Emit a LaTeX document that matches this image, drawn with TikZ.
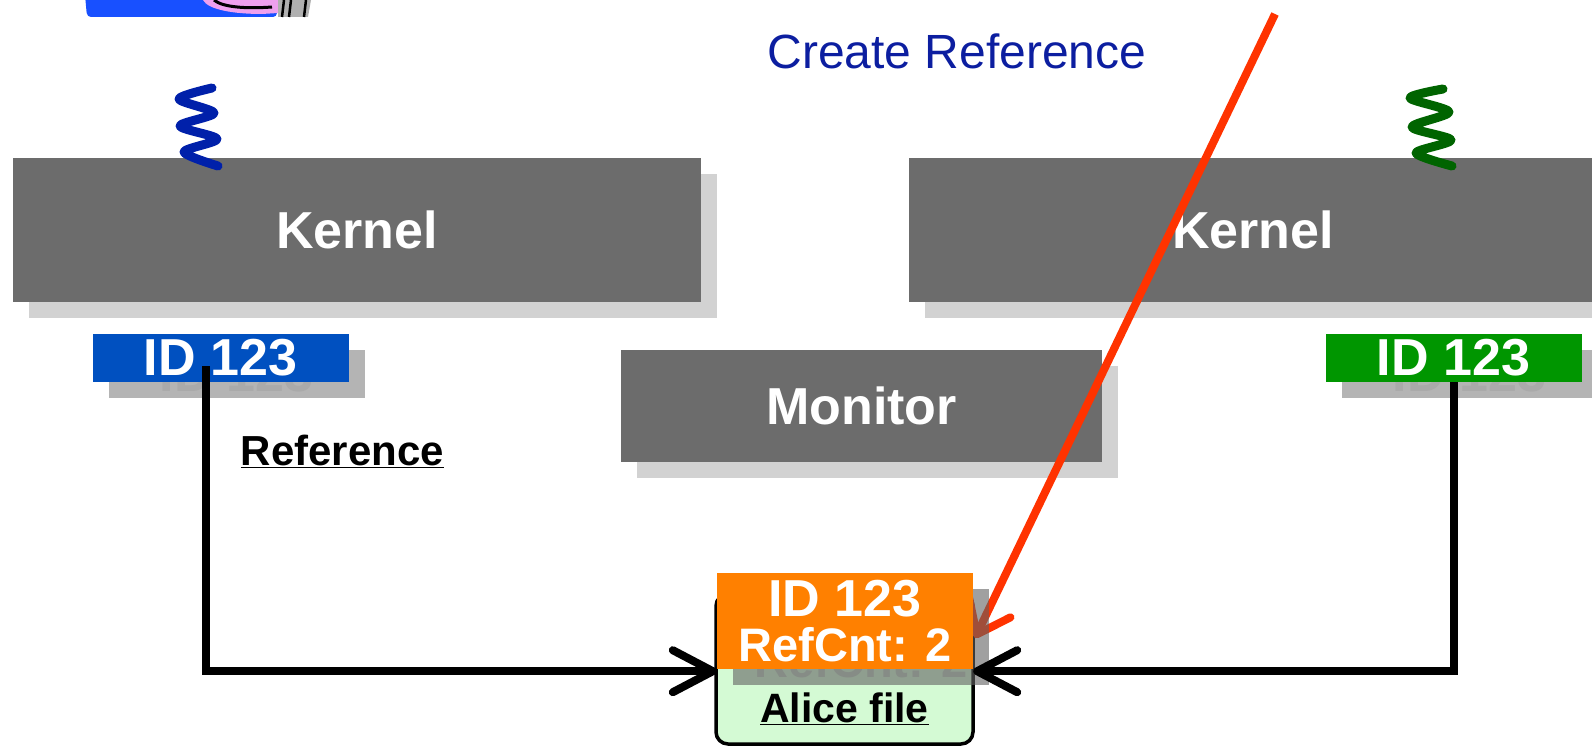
\documentclass[tikz,border=0pt]{standalone}
\usepackage{fontspec}
\setmainfont{Liberation Sans}
\usetikzlibrary{arrows.meta}

\definecolor{boxgray}{RGB}{108,108,108}
\definecolor{shadegray}{RGB}{210,210,210}
\definecolor{idshade}{RGB}{180,180,180}
\definecolor{idghost}{RGB}{170,170,170}
\definecolor{idblue}{RGB}{0,80,192}
\definecolor{idgreen}{RGB}{0,150,0}
\definecolor{tagorange}{RGB}{255,128,0}
\definecolor{filegreen}{RGB}{212,250,212}
\definecolor{titleblue}{RGB}{12,30,160}
\definecolor{springblue}{RGB}{0,32,170}
\definecolor{springgreen}{RGB}{0,100,0}
\definecolor{arrowred}{RGB}{255,51,0}
\definecolor{clipblue}{RGB}{24,80,255}
\definecolor{clippink}{RGB}{238,160,238}
\definecolor{clipgray}{RGB}{176,176,176}

\begin{document}
\begin{tikzpicture}[x=1pt,y=-1pt,
    big/.style={font=\fontsize{52}{45}\selectfont\bfseries},
    block/.style={fill=boxgray,text=white,big,inner sep=0pt,
        minimum width=688pt,minimum height=144pt},
    blockshade/.style={fill=shadegray,inner sep=0pt,
        minimum width=688pt,minimum height=144pt},
    idbox/.style={text=white,big,inner sep=0pt,
        minimum width=256pt,minimum height=48pt},
    idshadow/.style={idbox,fill=idshade,text=idghost},
    tagbox/.style={idbox,align=center,minimum height=96pt},
    filebox/.style={draw=black,line width=3.5pt,fill=filegreen,rounded corners=12pt,
        minimum width=257pt,minimum height=150pt},
    spring/.style={line width=9pt,line cap=round,line join=round},
    link/.style={line width=8pt,-{Straight Barb[round,length=40pt,width=42pt]}},
    ptr/.style={draw=arrowred,line width=8pt,-{Straight Barb[round,length=30pt,width=46pt]}}
]
\useasboundingbox (0,0) rectangle (1592,749);

% bottom edge of the workstation clip art
\fill[clipblue,rounded corners=4pt] (85,-5) -- (87,17) -- (277,17) -- (277,-5);
\fill[clippink] (203,0) .. controls (208,10) and (235,14) .. (262,14) -- (278,13) -- (279,0) -- cycle;
\draw[line width=3pt] (214,0) .. controls (222,7) and (245,9) .. (272,7);
\fill[clipgray] (278,0) -- (278,17) -- (308,17) -- (311,0) -- cycle;
\draw[line width=2.5pt] (282,17) -- (284,0) (289,17) -- (291,0) (304,17) -- (306,0);

\node[font=\fontsize{48}{52}\selectfont,text=titleblue] (create) at (957,51) {Create Reference};

% the two kernels
\node[blockshade] at (373,246) {};
\node[block] (kl) at (357,230) {Kernel};
\node[blockshade] at (1269,246) {};
\node[block] (kr) at (1253,230) {Kernel};

% threads
\draw[spring,springblue] plot[smooth] coordinates
    {(212,88) (179,99) (214,113) (180,126) (217,139) (184,152) (218,166)};
\draw[spring,springgreen] plot[smooth] coordinates
    {(1443,89) (1410,98) (1449,112) (1412,127) (1451,140) (1416,153) (1452,166)};

\node[blockshade,minimum width=481pt,minimum height=112pt] at (877.5,422) {};
\node[block,minimum width=481pt,minimum height=112pt] (mon) at (861.5,406) {Monitor};

% handles
\node[idshadow] at (236.5,374) {ID 123};
\node[idbox,fill=idblue] (idl) at (220.5,358) {ID 123};
\node[idshadow] at (1469.5,374) {ID 123};
\node[idbox,fill=idgreen] (idr) at (1453.5,358) {ID 123};

\node[font=\fontsize{42}{46}\selectfont\bfseries,anchor=base] (ref) at (342.5,465) {\underline{Reference}};

% the file object
\node[filebox] (file) at (844.5,669) {};
\node[font=\fontsize{41}{45}\selectfont\bfseries,anchor=base] (alice) at (844.5,722) {\underline{Alice file}};

\coordinate (src) at (1275,14);
\coordinate (hit) at (975,638);
\draw[ptr] (src) -- (hit);

\node[tagbox,fill=black!62,opacity=0.6,text=black!50] at (861,637)
    {ID 123\\{\fontsize{47}{45}\selectfont RefCnt: 2}};
\node[tagbox,fill=tagorange] (tag) at (845,621)
    {ID 123\\{\fontsize{47}{45}\selectfont RefCnt: 2}};

\draw[link] ([xshift=-14.5pt,yshift=16pt]idl.south) |- ([yshift=-2pt]tag.south west);
\draw[link] (idr.south) |- ([yshift=-2pt]tag.south east);
\end{tikzpicture}
\end{document}
